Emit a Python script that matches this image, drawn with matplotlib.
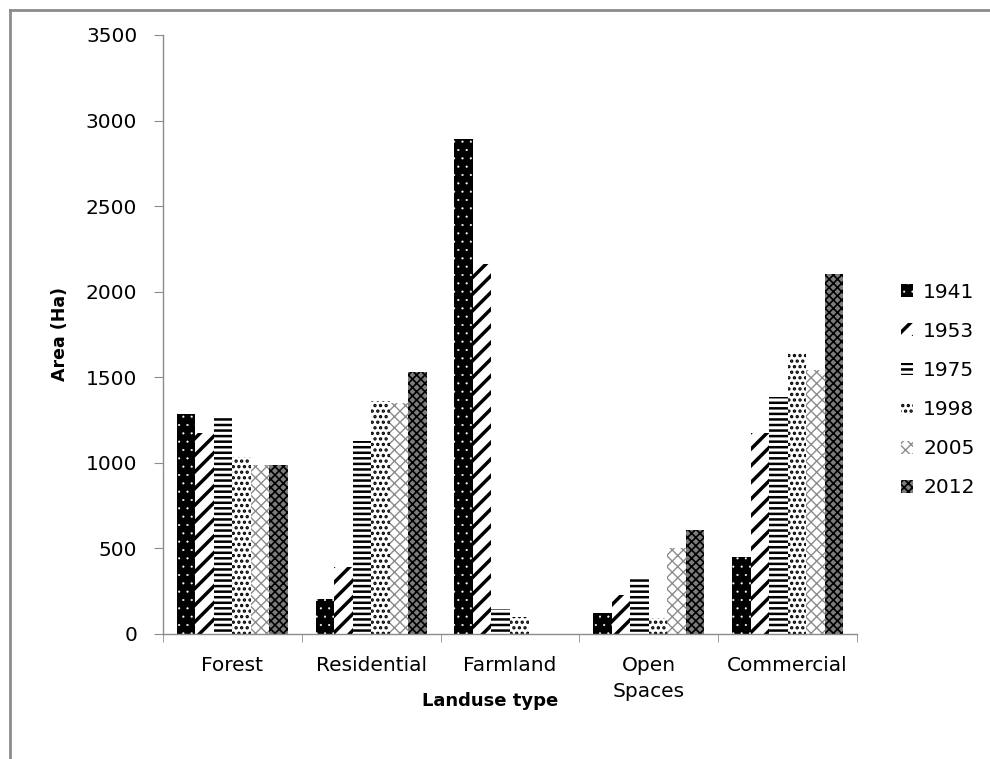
"""Land use area by year, grouped bar chart with hatch fills."""

import matplotlib

matplotlib.use("Agg")
import matplotlib.pyplot as plt
import numpy as np
from matplotlib.lines import Line2D
from matplotlib.ticker import FixedLocator

plt.rcParams["font.family"] = ["DejaVu Sans"]

categories = ["Forest", "Residential", "Farmland", "Open\nSpaces", "Commercial"]
years = ["1941", "1953", "1975", "1998", "2005", "2012"]

area_1941 = [1285, 206, 2890, 124, 450]
area_1953 = [1172, 392, 2160, 227, 1172]
area_1975 = [1275, 1130, 144, 324, 1382]
area_1998 = [1037, 1361, 97, 95, 1640]
area_2005 = [990, 1349, 0, 505, 1541]
area_2012 = [990, 1530, 0, 606, 2105]
series = [area_1941, area_1953, area_1975, area_1998, area_2005, area_2012]

# fill styles: (face, hatch colour, hatch, hatch linewidth)
styles = [
    ("black", "white", "..", 0.3),
    ("white", "black", "//", 2.5),
    ("white", "black", "---", 1.8),
    ("white", "black", "...", 1.6),
    ("white", "#8c8c8c", "xxx", 1.0),
    ("#7c7c7c", "black", "xxxx", 1.2),
]

fig = plt.figure(figsize=(9.9, 7.59), dpi=100)
ax = fig.add_axes([0.1646, 0.1647, 0.7011, 0.7892])

x = np.arange(len(categories))
width = 0.8 / len(years)
for j, (vals, year) in enumerate(zip(series, years)):
    face, hcol, hatch, hlw = styles[j]
    plt.rcParams["hatch.linewidth"] = hlw
    bars = ax.bar(
        x + (j - 2.5) * width,
        vals,
        width,
        color=face,
        edgecolor=hcol,
        linewidth=0,
        hatch=hatch,
        label=year,
    )
    for b in bars:
        if hasattr(b, "set_hatch_linewidth"):
            b.set_hatch_linewidth(hlw)

ax.set_xlim(-0.5, len(categories) - 0.5)
ax.set_ylim(0, 3500)
ax.set_yticks(np.arange(0, 3501, 500))
ax.set_xticks(x)
ax.set_xticklabels(categories)
ax.xaxis.set_minor_locator(FixedLocator(np.arange(-0.5, len(categories), 1.0)))

axis_grey = "#8c8c8c"
for side in ["top", "right"]:
    ax.spines[side].set_visible(False)
for side in ["left", "bottom"]:
    ax.spines[side].set_color(axis_grey)
    ax.spines[side].set_linewidth(1.0)

ax.tick_params(axis="x", which="major", length=0, pad=16, labelsize=14.5)
ax.tick_params(axis="x", which="minor", length=6, color=axis_grey, direction="out")
ax.tick_params(axis="y", length=6.5, color=axis_grey, pad=12, labelsize=14.5)
for lbl in ax.get_xticklabels():
    lbl.set_linespacing(1.45)

ax.set_ylabel("Area (Ha)", fontsize=12.5, fontweight="bold")
ax.yaxis.set_label_coords(-0.1354, 0.5)
ax.set_xlabel("Landuse type", fontsize=13, fontweight="bold")
ax.xaxis.set_label_coords(0.471, -0.097)

leg = ax.legend(
    loc="center left",
    bbox_to_anchor=(901 / 990, 0.486),
    bbox_transform=fig.transFigure,
    frameon=False,
    fontsize=14.5,
    handlelength=0.6,
    handleheight=0.6,
    handletextpad=0.5,
    labelspacing=1.0,
    borderpad=0,
    borderaxespad=0,
)
for patch, st in zip(leg.get_patches(), styles):
    if hasattr(patch, "set_hatch_linewidth"):
        patch.set_hatch_linewidth(st[3])

# outer frame, only the left and top edges are visible
frame_kw = dict(transform=fig.transFigure, color="#8c8c8c", linewidth=2)
fig.add_artist(Line2D([10 / 990, 10 / 990], [0, 1 - 10 / 759], **frame_kw))
fig.add_artist(Line2D([10 / 990, 1], [1 - 10 / 759, 1 - 10 / 759], **frame_kw))

fig.savefig("out.png", dpi=100)
